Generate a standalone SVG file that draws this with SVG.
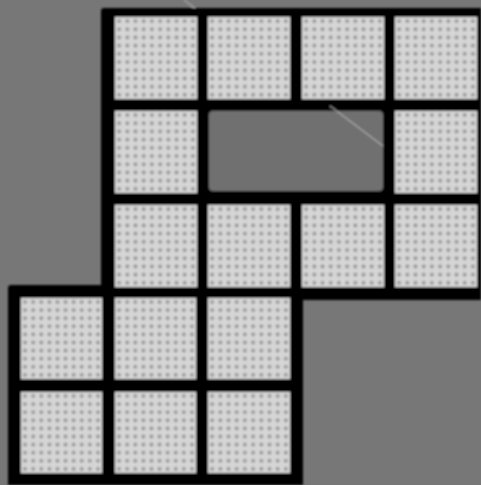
<svg xmlns="http://www.w3.org/2000/svg" width="481" height="485" viewBox="0 0 481 485">
  <defs>
    <pattern id="dots" patternUnits="objectBoundingBox" patternContentUnits="objectBoundingBox" width="0.1" height="0.1">
      <rect width="0.1" height="0.1" fill="#d6d6d6"/>
      <circle cx="0.05" cy="0.05" r="0.024" fill="#959595"/>
    </pattern>
    <filter id="soft" x="-5%" y="-5%" width="110%" height="110%">
      <feGaussianBlur stdDeviation="1.1"/>
    </filter>
  </defs>
  <style>
    .cell { fill: url(#dots); }
    .frame { fill: #000000; }
  </style>
  <rect width="481" height="485" fill="#777777"/>
  <g filter="url(#soft)">
    <line x1="184" y1="0" x2="387" y2="151" stroke="#c4c4c4" stroke-width="1"/>
    <path class="frame" d="M104,8 H481 V300 H303 V485 H8 V288 Q8,285 11,285 H101 V11 Q101,8 104,8 Z"/>
    <g id="hole">
      <rect x="209" y="111" width="174" height="80" rx="4" fill="#6f6f6f"/>
      <line x1="330" y1="106" x2="383" y2="146" stroke="#c4c4c4" stroke-width="1"/>
    </g>
    <g id="cell-r1c1"><rect class="cell" x="115" y="17" width="82" height="82"/></g>
    <g id="cell-r1c2"><rect class="cell" x="208" y="17" width="82" height="82"/></g>
    <g id="cell-r1c3"><rect class="cell" x="302" y="17" width="82" height="82"/></g>
    <g id="cell-r1c4"><rect class="cell" x="395" y="17" width="82" height="82"/></g>
    <g id="cell-r2c1"><rect class="cell" x="115" y="111" width="82" height="82"/></g>
    <g id="cell-r2c4"><rect class="cell" x="395" y="111" width="82" height="82"/></g>
    <g id="cell-r3c1"><rect class="cell" x="115" y="205" width="82" height="82"/></g>
    <g id="cell-r3c2"><rect class="cell" x="208" y="205" width="82" height="82"/></g>
    <g id="cell-r3c3"><rect class="cell" x="302" y="205" width="82" height="82"/></g>
    <g id="cell-r3c4"><rect class="cell" x="395" y="205" width="82" height="82"/></g>
    <g id="cell-r4c0"><rect class="cell" x="21" y="298" width="81" height="81"/></g>
    <g id="cell-r4c1"><rect class="cell" x="115" y="298" width="81" height="81"/></g>
    <g id="cell-r4c2"><rect class="cell" x="208" y="298" width="82" height="81"/></g>
    <g id="cell-r5c0"><rect class="cell" x="21" y="392" width="81" height="81"/></g>
    <g id="cell-r5c1"><rect class="cell" x="115" y="392" width="81" height="81"/></g>
    <g id="cell-r5c2"><rect class="cell" x="208" y="392" width="82" height="81"/></g>
  </g>
</svg>
